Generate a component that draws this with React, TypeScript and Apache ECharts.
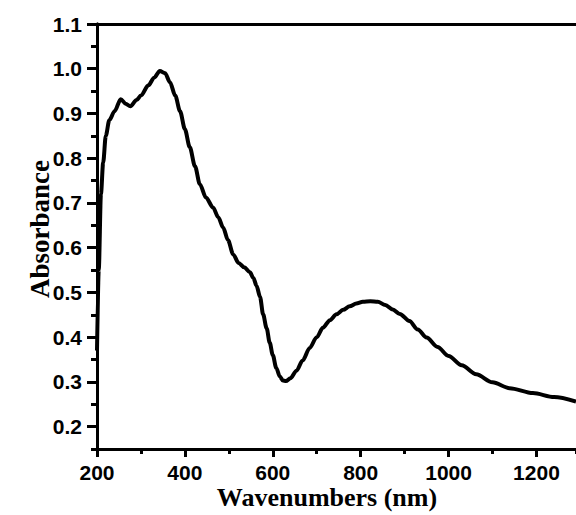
import React, { useEffect, useRef } from "react";
import * as echarts from "echarts";

const wavelengths = [
  200, 204, 209, 214, 220, 228, 240, 254, 265, 276, 290, 300, 317, 330, 343, 355, 366, 378, 389, 400,
  411, 423, 434, 448, 464, 476, 487, 498, 510, 522, 535, 548, 556, 563, 571, 578, 586, 593, 600, 608,
  616, 623, 630, 640, 654, 668, 684, 700, 714, 730, 745, 760, 775, 790, 805, 822, 839, 856, 873, 889,
  911, 930, 950, 975, 1000, 1030, 1063, 1100, 1139, 1192, 1240, 1290,
];
const absorbance = [
  0.37, 0.55, 0.72, 0.79, 0.85, 0.885, 0.905, 0.932, 0.922, 0.916, 0.93, 0.94, 0.963, 0.98, 0.995, 0.99, 0.97, 0.94, 0.905, 0.865,
  0.825, 0.782, 0.742, 0.712, 0.69, 0.668, 0.645, 0.617, 0.585, 0.566, 0.556, 0.545, 0.532, 0.515, 0.49, 0.451, 0.42, 0.388, 0.36, 0.331,
  0.312, 0.303, 0.302, 0.308, 0.325, 0.348, 0.376, 0.4, 0.421, 0.438, 0.451, 0.461, 0.469, 0.475, 0.479, 0.48, 0.479, 0.472, 0.462, 0.452,
  0.436, 0.417, 0.399, 0.378, 0.358, 0.337, 0.317, 0.299, 0.286, 0.275, 0.266, 0.256,
];

const xTitle = "Wavenumbers (nm)";
const yTitle = "Absorbance";

const X_MIN = 200;
const X_MAX = 1290;
const X_MAJOR = 200;
const X_MINOR = 100;
const X_LAST_LABEL = 1200;
const Y_MIN = 0.15;
const Y_MAX = 1.1;
const Y_MAJOR_MIN = 0.2;
const Y_MAJOR = 0.1;
const Y_MINOR = 0.05;

// layout (pixels)
const G_LEFT = 97;
const G_TOP = 24;
const G_BOTTOM = 66;
const PLOT_H = 515 - G_TOP - G_BOTTOM;

export default function App() {
  const ref = useRef<HTMLDivElement>(null);

  useEffect(() => {
    document.body.style.margin = "0";
    if (!ref.current) return;
    const chart = echarts.init(ref.current, null, { renderer: "svg" });
    const labelFont = {
      fontFamily: '"Liberation Sans", Arial, sans-serif',
      fontWeight: "bold" as const,
      fontSize: 21,
      color: "#000",
    };
    const black = () => ({ color: "#000", width: 3 });
    // second grid whose bottom edge sits at the 0.2 level, so the labelled ticks start from 0.2
    const majorBottom = G_BOTTOM + ((Y_MAJOR_MIN - Y_MIN) / (Y_MAX - Y_MIN)) * PLOT_H;

    chart.setOption({
      animation: false,
      backgroundColor: "#ffffff",
      grid: [
        { left: G_LEFT, right: 0, top: G_TOP, bottom: G_BOTTOM },
        { left: G_LEFT, right: 0, top: G_TOP, bottom: majorBottom },
      ],
      xAxis: [
        {
          type: "value",
          gridIndex: 0,
          position: "bottom",
          min: X_MIN,
          max: X_MAX,
          interval: X_MINOR,
          axisLine: { show: true, onZero: false, lineStyle: black() },
          axisTick: { show: true, length: 5, lineStyle: black() },
          axisLabel: { show: false },
          splitLine: { show: false },
        },
        {
          type: "value",
          gridIndex: 0,
          position: "bottom",
          offset: 0,
          min: X_MIN,
          max: X_MAX,
          interval: X_MAJOR,
          axisLine: { show: true, onZero: false, lineStyle: black() },
          axisTick: { show: true, length: 8, lineStyle: black() },
          axisLabel: {
            ...labelFont,
            margin: 13,
            showMaxLabel: false,
            formatter: (v: number) => (v % X_MAJOR === 0 && v <= X_LAST_LABEL ? String(v) : ""),
          },
          splitLine: { show: false },
        },
        {
          type: "value",
          gridIndex: 0,
          position: "top",
          min: X_MIN,
          max: X_MAX,
          axisLine: { show: true, onZero: false, lineStyle: black() },
          axisTick: { show: false },
          axisLabel: { show: false },
          splitLine: { show: false },
        },
        {
          type: "value",
          gridIndex: 1,
          show: false,
          min: X_MIN,
          max: X_MAX,
        },
      ],
      yAxis: [
        {
          type: "value",
          gridIndex: 0,
          position: "left",
          min: Y_MIN,
          max: Y_MAX,
          interval: Y_MINOR,
          axisLine: { show: true, onZero: false, lineStyle: black() },
          axisTick: { show: true, length: 6, lineStyle: black() },
          axisLabel: { show: false },
          splitLine: { show: false },
        },
        {
          type: "value",
          gridIndex: 1,
          position: "left",
          min: Y_MAJOR_MIN,
          max: Y_MAX,
          interval: Y_MAJOR,
          axisLine: { show: true, onZero: false, lineStyle: black() },
          axisTick: { show: true, length: 10, lineStyle: black() },
          axisLabel: { ...labelFont, margin: 15, formatter: (v: number) => v.toFixed(1) },
          splitLine: { show: false },
        },
      ],
      graphic: [
        {
          type: "text",
          x: 327,
          y: 497,
          style: {
            text: xTitle,
            font: 'bold 26px "Liberation Serif", "Times New Roman", serif',
            fill: "#000",
            align: "center",
            verticalAlign: "middle",
          },
        },
        {
          type: "text",
          x: 40,
          y: 229,
          rotation: Math.PI / 2,
          style: {
            text: yTitle,
            font: 'bold 27px "Liberation Serif", "Times New Roman", serif',
            fill: "#000",
            align: "center",
            verticalAlign: "middle",
          },
        },
      ],
      series: [
        {
          type: "line",
          xAxisIndex: 0,
          yAxisIndex: 0,
          data: wavelengths.map((w, i) => [w, absorbance[i]]),
          showSymbol: false,
          smooth: 0.3,
          smoothMonotone: "x",
          lineStyle: { color: "#000", width: 4 },
          clip: true,
        },
      ],
    });
    return () => {
      chart.dispose();
    };
  }, []);

  return <div ref={ref} style={{ width: 576, height: 515 }} />;
}
